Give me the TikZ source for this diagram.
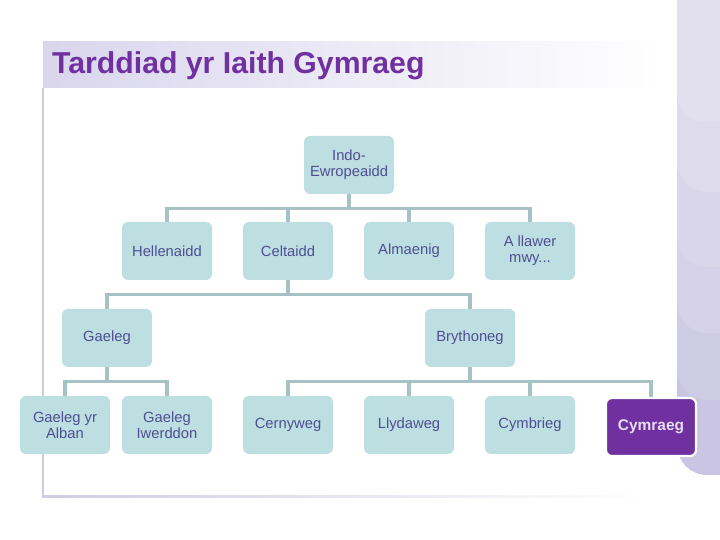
\documentclass[tikz,border=0pt]{standalone}
\usepackage{fontspec}
\setmainfont{Liberation Sans}
\definecolor{ink}{HTML}{4F4E92}
\definecolor{pool}{HTML}{BDDFE2}
\definecolor{branch}{HTML}{A6C2C4}
\definecolor{plum}{HTML}{7030A0}
\definecolor{bloom}{HTML}{E6DEF6}
\definecolor{lilac}{HTML}{D9D6ED}
\definecolor{rim}{HTML}{CFCCE4}
\definecolor{side}{HTML}{C9C5E2}

\begin{document}
\begin{tikzpicture}[
    font=\fontsize{10.5}{11.5}\selectfont, color=ink,
    lang/.style={fill=pool, rounded corners=0.15cm, minimum width=2.25cm, minimum height=1.45cm,
                 align=center, text=ink, inner sep=1pt},
    link/.style={draw=branch, line width=2.3pt},
    title/.style={font=\fontsize{21.5}{25}\selectfont\bfseries, text=plum, anchor=west}]
  % fixed 18 cm x 13.5 cm canvas
  \path[use as bounding box] (0,0) rectangle (18,13.5);

  % ================= side panel: stacked lilac tabs =================
  \begin{scope}
    \clip (0,0) rectangle (18,13.5);
    \foreach \b/\p in {1.625/100, 3.50/90, 5.175/80, 6.825/71, 8.70/62, 10.45/54}
      \fill[side!\p!white] (19.5,15) -- (16.925,15) [rounded corners=0.75cm] -- (16.925,\b) -- (19.5,\b) -- cycle;
  \end{scope}

  % ================= title bar and frame =================
  \shade[left color=lilac, right color=white] (1.075,11.30) rectangle (16.60,12.45);
  \draw[rim, line width=1pt] (1.075,11.30) -- (1.075,1.075);
  \shade[left color=rim, right color=white] (1.05,1.05) rectangle (16.40,1.10);
  \node[title] (head) at (1.18,11.85) {Tarddiad yr Iaith Gymraeg};

  % ================= family tree =================
  \node[lang] (indo) at (8.725,9.375) {Indo-\\Ewropeaidd};

  \node[lang] (hell) at (4.175,7.225) {Hellenaidd};
  \node[lang] (celt) at (7.200,7.225) {Celtaidd};
  \node[lang] (alm)  at (10.225,7.225) {Almaenig};
  \node[lang] (mwy)  at (13.250,7.225) {A llawer\\mwy...};

  \node[lang] (gael)  at (2.675,5.050) {Gaeleg};
  \node[lang] (bryth) at (11.750,5.050) {Brythoneg};

  \node[lang] (alban) at (1.625,2.875) {Gaeleg yr\\Alban};
  \node[lang] (iwerd) at (4.175,2.875) {Gaeleg\\Iwerddon};
  \node[lang] (cern)  at (7.200,2.875) {Cernyweg};
  \node[lang] (llyd)  at (10.225,2.875) {Llydaweg};
  \node[lang] (cymb)  at (13.250,2.875) {Cymbrieg};
  \node[lang, fill=plum, draw=white, line width=1.5pt, text=bloom,
        font=\fontsize{11}{13}\selectfont\bfseries] (cymr) at (16.275,2.825) {Cymraeg};

  % ================= branches =================
  \foreach \c in {hell,celt,alm,mwy}
    \draw[link] (indo.south) -- ++(0,-0.36) -| (\c.north);
  \foreach \c in {gael,bryth}
    \draw[link] (celt.south) -- ++(0,-0.36) -| (\c.north);
  \foreach \c in {alban,iwerd}
    \draw[link] (gael.south) -- ++(0,-0.36) -| (\c.north);
  \foreach \c in {cern,llyd,cymb,cymr}
    \draw[link] (bryth.south) -- ++(0,-0.36) -| (\c.north);
\end{tikzpicture}
\end{document}
